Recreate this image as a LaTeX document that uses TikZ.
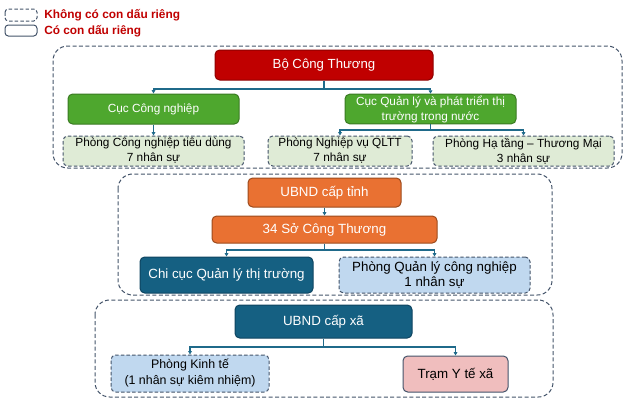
\documentclass[tikz,border=0pt]{standalone}
\usepackage{fontspec}
\setmainfont{Liberation Sans}
\usetikzlibrary{arrows.meta}
\definecolor{cred}{HTML}{C00000}
\definecolor{credb}{HTML}{8E0000}
\definecolor{cgreen}{HTML}{4EA72E}
\definecolor{cgreenb}{HTML}{3A7A22}
\definecolor{corange}{HTML}{E97132}
\definecolor{corangeb}{HTML}{9C4A1C}
\definecolor{cdblue}{HTML}{156082}
\definecolor{cdblueb}{HTML}{0E4460}
\definecolor{clgreen}{HTML}{DFEBD6}
\definecolor{clblue}{HTML}{C0D8EF}
\definecolor{cpink}{HTML}{F0BEBE}
\definecolor{cdash}{HTML}{44546A}
\definecolor{cconn}{HTML}{1F6A8A}
\definecolor{clegend}{HTML}{C00000}
\tikzset{
  box/.style={rectangle, rounded corners=3.5pt, line width=0.75pt, align=center,
    inner sep=1pt, font=\fontsize{10}{11.5}\selectfont},
  small/.style={font=\fontsize{8.85}{11.2}\selectfont},
  mid/.style={font=\fontsize{9.3}{12}\selectfont},
  big/.style={font=\fontsize{9.9}{11.3}\selectfont},
  solidbox/.style={box, text=white},
  redbox/.style={solidbox, fill=cred, draw=credb},
  greenbox/.style={solidbox, fill=cgreen, draw=cgreenb},
  orangebox/.style={solidbox, fill=corange, draw=corangeb},
  bluebox/.style={solidbox, fill=cdblue, draw=cdblueb},
  lightbox/.style={box, text=black, draw=cdash, dash pattern=on 2.6pt off 1.6pt},
  lgbox/.style={lightbox, fill=clgreen},
  lbbox/.style={lightbox, fill=clblue},
  pinkbox/.style={box, text=black, fill=cpink, draw=cdash},
  grp/.style={draw=cdash, line width=0.75pt, dash pattern=on 3pt off 1.8pt, rounded corners=11pt},
  conn/.style={draw=cconn, line width=0.9pt, -{Triangle[length=2.6pt,width=2.8pt]}},
  bus/.style={draw=cconn, line width=0.9pt},
  legtxt/.style={text=clegend, font=\bfseries\fontsize{8.9}{10}\selectfont, anchor=west, inner sep=0pt},
  legbox/.style={draw=cdash, line width=0.75pt, rounded corners=2.5pt},
}
\begin{document}
\begin{tikzpicture}[x=0.75pt,y=-0.75pt]
\useasboundingbox (0,0) rectangle (641,400);
% legend
\draw[legbox, dash pattern=on 2.6pt off 1.6pt] (5,9) rectangle (37,21);
\draw[legbox] (5,25) rectangle (37,36);
\node[legtxt] (l1) at (44,15) {Không có con dấu riêng};
\node[legtxt] (l2) at (44,31) {Có con dấu riêng};
% groups
\draw[grp] (53,46) rectangle (622,168);
\draw[grp] (118,174) rectangle (552,295);
\draw[grp] (95,300) rectangle (553,397);
% level 1
\node[redbox, big, minimum width=218*0.75pt, minimum height=30*0.75pt] (bo) at (324,65) {Bộ Công Thương};
\node[greenbox, small, minimum width=171*0.75pt, minimum height=30*0.75pt] (cucCN) at (153.5,109) {Cục Công nghiệp};
\node[greenbox, small, minimum width=171*0.75pt, minimum height=29*0.75pt] (cucQL) at (430.5,109) {Cục Quản lý và phát triển thị\\trường trong nước};
\node[lgbox, small, minimum width=181*0.75pt, minimum height=30*0.75pt] (pcn) at (153.5,151) {Phòng Công nghiệp tiêu dùng\\7 nhân sự};
\node[lgbox, small, minimum width=144*0.75pt, minimum height=30*0.75pt] (pnv) at (340,151) {Phòng Nghiệp vụ QLTT\\7 nhân sự};
\node[lgbox, small, minimum width=181*0.75pt, minimum height=30*0.75pt] (pht) at (523.5,151) {Phòng Hạ tầng – Thương Mại\\3 nhân sự};
% level 2
\node[orangebox, minimum width=153*0.75pt, minimum height=29*0.75pt] (ubt) at (324.5,192.5) {UBND cấp tỉnh};
\node[orangebox, minimum width=225*0.75pt, minimum height=27*0.75pt] (so) at (324.5,229.5) {34 Sở Công Thương};
\node[bluebox, minimum width=173*0.75pt, minimum height=36*0.75pt] (ccqltt) at (226.5,275) {Chi cục Quản lý thị trường};
\node[lbbox, minimum width=191*0.75pt, minimum height=36*0.75pt] (pqlcn) at (434.5,275) {Phòng Quản lý công nghiệp\\1 nhân sự};
% level 3
\node[bluebox, minimum width=177*0.75pt, minimum height=33*0.75pt] (ubx) at (323.5,321.5) {UBND cấp xã};
\node[lbbox, mid, minimum width=158*0.75pt, minimum height=37*0.75pt] (pkt) at (190,373.5) {Phòng Kinh tế\\(1 nhân sự kiêm nhiệm)};
\node[pinkbox, minimum width=105*0.75pt, minimum height=36*0.75pt] (tram) at (455.5,374) {Trạm Y tế xã};
% connectors
\coordinate (b1) at (bo.south |- 0,89);
\draw[bus] (bo.south) -- (b1);
\draw[conn] (b1) -| (cucCN.north);
\draw[conn] (b1) -| (cucQL.north);
\draw[conn] (cucCN.south) -- (pcn.north);
\coordinate (b2) at (cucQL.south |- 0,130);
\draw[bus] (cucQL.south) -- (b2);
\draw[conn] (b2) -| (pnv.north);
\draw[conn] (b2) -| (pht.north);
\draw[conn] (ubt.south) -- (so.north);
\coordinate (b3) at (so.south |- 0,250);
\draw[bus] (so.south) -- (b3);
\draw[conn] (b3) -| (ccqltt.north);
\draw[conn] (b3) -| (pqlcn.north);
\coordinate (b4) at (ubx.south |- 0,347);
\draw[bus] (ubx.south) -- (b4);
\draw[conn] (b4) -| (pkt.north);
\draw[conn] (b4) -| (tram.north);
\end{tikzpicture}
\end{document}
